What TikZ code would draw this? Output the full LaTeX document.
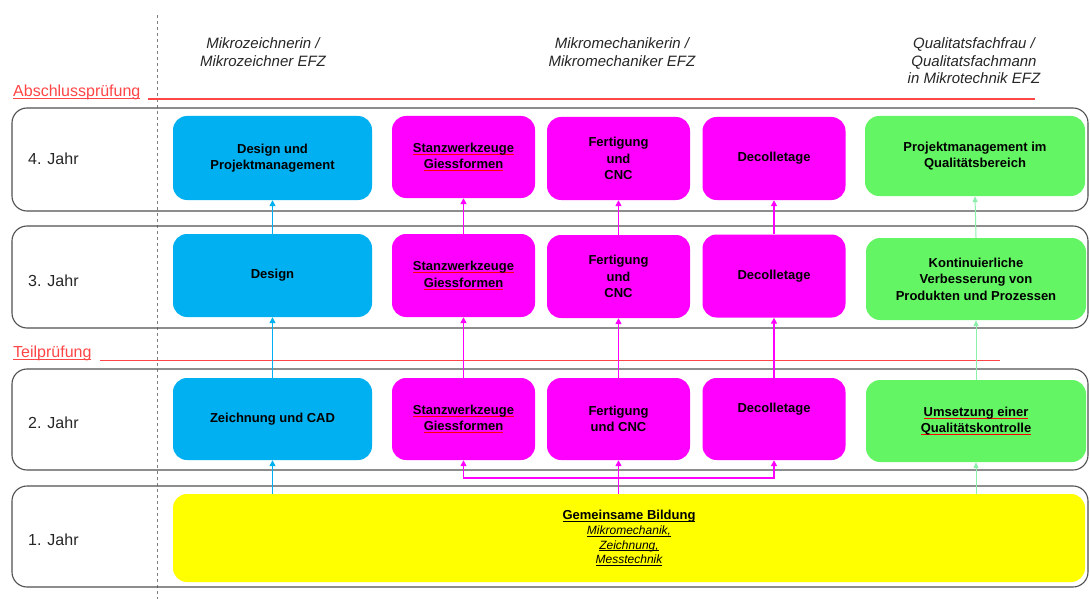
\documentclass[tikz,border=0pt]{standalone}
\usepackage{fontspec}
\setmainfont{Liberation Sans}
\usetikzlibrary{arrows.meta}
\definecolor{cblue}{RGB}{0,176,240}
\definecolor{cmag}{RGB}{255,0,255}
\definecolor{cgreen}{RGB}{100,245,100}
\definecolor{cgarrow}{RGB}{140,240,170}
\definecolor{cyell}{RGB}{255,255,0}
\definecolor{cred}{RGB}{255,70,70}
\definecolor{cframe}{RGB}{80,80,80}
\newcommand\ulc[2]{\setbox0\hbox{#2}\rlap{\color{#1}\rule[-2.2pt]{\wd0}{0.8pt}}\box0}
\begin{document}
\begin{tikzpicture}[x=1pt,y=-1pt,
  rowframe/.style={draw=cframe, line width=1.1pt, rounded corners=15pt, minimum width=1076pt, inner sep=0pt},
  course/.style={rounded corners=14pt, inner sep=2pt, align=center, font=\fontsize{13}{16.5}\selectfont\bfseries, text=black},
  bluebox/.style={course, fill=cblue, minimum width=199pt},
  magbox/.style={course, fill=cmag, minimum width=143pt},
  greenbox/.style={course, fill=cgreen, minimum width=220pt},
  yellbox/.style={course, fill=cyell, minimum width=912pt, minimum height=88pt},
  yearlbl/.style={anchor=west, inner sep=0pt, font=\fontsize{16}{18}\selectfont, text=black!85},
  header/.style={align=center, font=\fontsize{15}{17.5}\selectfont\itshape, text=black!85},
  examlbl/.style={anchor=west, inner sep=0pt, font=\fontsize{16}{18}\selectfont, text=cred},
  barrow/.style={draw=cblue, line width=1.3pt, -{Triangle[length=6pt,width=6pt]}},
  marrow/.style={draw=cmag, line width=1.6pt, -{Triangle[length=6pt,width=6pt]}},
  mline/.style={draw=cmag, line width=1.6pt},
  garrow/.style={draw=cgarrow, line width=1pt, -{Triangle[length=6pt,width=5pt]}},
  redline/.style={draw=cred, line width=1.4pt}
]
\useasboundingbox (0,0) rectangle (1090,599);
\fill[white] (0,0) rectangle (1090,599);

% dashed separator
\coordinate (vtop) at (157,15);
\coordinate (vbot) at (157,599);
\draw[gray, line width=0.6pt, dash pattern=on 3pt off 3pt] (vtop) -- (vbot);

% headers
\node[header] (h1) at (263,52) {Mikrozeichnerin /\\Mikrozeichner EFZ};
\node[header] (h2) at (622,52) {Mikromechanikerin /\\Mikromechaniker EFZ};
\node[header] (h3) at (974,61) {Qualitatsfachfrau /\\Qualitatsfachmann\\in Mikrotechnik EFZ};

% exam labels and lines
\node[examlbl] (abs) at (13,92) {\ulc{cred}{Abschlussprüfung}};
\coordinate (absend) at (1035,99);
\draw[redline] (148,99) -- (absend);
\node[examlbl] (teil) at (13,353) {\ulc{cred}{Teilprüfung}};
\coordinate (teilend) at (1000,360);
\draw[draw=cred, line width=0.9pt] (100,360) -- (teilend);

% row frames
\node[rowframe, minimum height=103pt] (r4) at (550,159.5) {};
\node[rowframe, minimum height=102pt] (r3) at (550,277) {};
\node[rowframe, minimum height=101pt] (r2) at (550,419.5) {};
\node[rowframe, minimum height=101pt] (r1) at (550,536.5) {};

\node[yearlbl] (y4) at (28,159) {4. Jahr};
\node[yearlbl] (y3) at (28,281) {3. Jahr};
\node[yearlbl] (y2) at (28,423) {2. Jahr};
\node[yearlbl] (y1) at (28,540) {1. Jahr};

% year 4
\node[bluebox, minimum height=84pt] (b4) at (272.5,158) {Design und\\Projektmanagement};
\node[magbox, minimum height=82pt] (s4) at (463.5,157) {\ulc{red}{Stanzwerkzeuge}\\\ulc{red}{Giessformen}};
\node[magbox, minimum height=83pt] (f4) at (618.5,158.5) {Fertigung\\und\\CNC};
\node[magbox, minimum height=83pt] (d4) at (774,158.5) {Decolletage};
\node[greenbox, minimum height=80pt] (g4) at (975,156) {Projektmanagement im\\Qualitätsbereich};

% year 3
\node[bluebox, minimum height=83pt] (b3) at (272.5,275.5) {Design};
\node[magbox, minimum height=83pt] (s3) at (463.5,275.5) {\ulc{red}{Stanzwerkzeuge}\\\ulc{red}{Giessformen}};
\node[magbox, minimum height=83pt] (f3) at (618.5,276.5) {Fertigung\\und\\CNC};
\node[magbox, minimum height=83pt] (d3) at (774,276) {Decolletage};
\node[greenbox, minimum height=82pt] (g3) at (976,279) {Kontinuierliche\\Verbesserung von\\Produkten und Prozessen};

% year 2
\node[bluebox, minimum height=82pt] (b2) at (272.5,419) {Zeichnung und CAD};
\node[magbox, minimum height=82pt] (s2) at (463.5,419) {\ulc{red}{Stanzwerkzeuge}\\\ulc{red}{Giessformen}};
\node[magbox, minimum height=82pt] (f2) at (618.5,419) {Fertigung\\und CNC};
\node[magbox, minimum height=82pt] (d2) at (774,419) {\smash{\raisebox{7pt}{Decolletage}}};
\node[greenbox, minimum height=82pt] (g2) at (976,421) {\ulc{red}{Umsetzung einer}\\\ulc{red}{Qualitätskontrolle}};

% year 1
\node[yellbox, font=\fontsize{12}{14.8}\selectfont\itshape] (ye) at (629,538)
  {{\fontsize{13}{14.8}\selectfont\bfseries\upshape\ulc{black}{Gemeinsame Bildung}}\\
   \ulc{black}{Mikromechanik,}\\\ulc{black}{Zeichnung,}\\\ulc{black}{Messtechnik}};

% arrows year 3 -> 4
\draw[barrow] (b3.north) -- (b4.south);
\draw[marrow] (s3.north) -- (s4.south);
\draw[marrow] (f3.north) -- (f4.south);
\draw[marrow] (d3.north) -- (d4.south);
\draw[garrow] (g3.north) -- (g4.south);

% arrows year 2 -> 3
\draw[barrow] (b2.north) -- (b3.south);
\draw[marrow] (s2.north) -- (s3.south);
\draw[marrow] (f2.north) -- (f3.south);
\draw[marrow] (d2.north) -- (d3.south);
\draw[garrow] (g2.north) -- (g3.south);

% arrows year 1 -> 2
\draw[barrow] (ye.north -| b2.south) -- (b2.south);
\coordinate (j) at (618.5,478);
\draw[mline] (ye.north -| f2.south) -- (j);
\draw[marrow] (j) -- (f2.south);
\draw[marrow] (j) -| (s2.south);
\draw[marrow] (j) -| (d2.south);
\draw[garrow] (ye.north -| g2.south) -- (g2.south);
\end{tikzpicture}
\end{document}
